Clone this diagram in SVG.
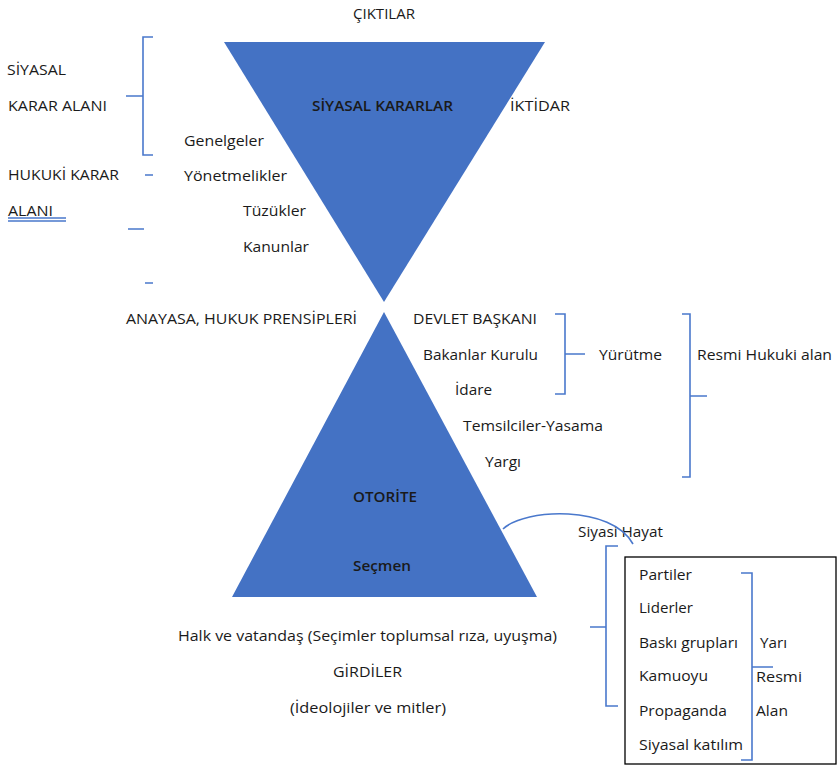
<svg xmlns="http://www.w3.org/2000/svg" width="838" height="766" viewBox="0 0 838 766">
<style>
text{font-family:"Open Sans","Liberation Sans",sans-serif;font-size:14.5px;fill:#1a1a1a}
.b{font-weight:600}
.br{fill:none;stroke:#4a78cc;stroke-width:1.6}
.tri{fill:#4472c4}
</style>
<rect width="838" height="766" fill="#fff"/>
<g id="top-triangle"><polygon class="tri" points="224,42 545,42 384,302"/><text x="312" y="111" class="b" textLength="141" lengthAdjust="spacingAndGlyphs">SİYASAL KARARLAR</text></g>
<g id="bottom-triangle"><polygon class="tri" points="384,312 537,597 232,597"/><text x="353" y="502" class="b" textLength="64" lengthAdjust="spacingAndGlyphs">OTORİTE</text><text x="353" y="571" class="b" textLength="58" lengthAdjust="spacingAndGlyphs">Seçmen</text></g>
<g id="labels">
<text x="353" y="19" textLength="62" lengthAdjust="spacingAndGlyphs">ÇIKTILAR</text>
<text x="7" y="75" textLength="59" lengthAdjust="spacingAndGlyphs">SİYASAL</text>
<text x="8" y="111" textLength="99" lengthAdjust="spacingAndGlyphs">KARAR ALANI</text>
<text x="510" y="111" textLength="60" lengthAdjust="spacingAndGlyphs">İKTİDAR</text>
<text x="184" y="146" textLength="80" lengthAdjust="spacingAndGlyphs">Genelgeler</text>
<text x="8" y="180" textLength="111" lengthAdjust="spacingAndGlyphs">HUKUKİ KARAR</text>
<text x="184" y="181" textLength="103" lengthAdjust="spacingAndGlyphs">Yönetmelikler</text>
<text x="8" y="216" textLength="45" lengthAdjust="spacingAndGlyphs">ALANI</text>
<text x="243" y="216" textLength="63" lengthAdjust="spacingAndGlyphs">Tüzükler</text>
<text x="243" y="252" textLength="66" lengthAdjust="spacingAndGlyphs">Kanunlar</text>
<text x="126" y="324" textLength="231" lengthAdjust="spacingAndGlyphs">ANAYASA, HUKUK PRENSİPLERİ</text>
<text x="413" y="324" textLength="124" lengthAdjust="spacingAndGlyphs">DEVLET BAŞKANI</text>
<text x="423" y="360" textLength="115" lengthAdjust="spacingAndGlyphs">Bakanlar Kurulu</text>
<text x="599" y="360" textLength="63" lengthAdjust="spacingAndGlyphs">Yürütme</text>
<text x="697" y="360" textLength="135" lengthAdjust="spacingAndGlyphs">Resmi Hukuki alan</text>
<text x="455" y="395" textLength="37" lengthAdjust="spacingAndGlyphs">İdare</text>
<text x="463" y="431" textLength="140" lengthAdjust="spacingAndGlyphs">Temsilciler-Yasama</text>
<text x="485" y="467" textLength="36" lengthAdjust="spacingAndGlyphs">Yargı</text>
<text x="578" y="537" textLength="85" lengthAdjust="spacingAndGlyphs">Siyasi Hayat</text>
<text x="178" y="641" textLength="379" lengthAdjust="spacingAndGlyphs">Halk ve vatandaş (Seçimler toplumsal rıza, uyuşma)</text>
<text x="333" y="677" textLength="69" lengthAdjust="spacingAndGlyphs">GİRDİLER</text>
<text x="290" y="713" textLength="156" lengthAdjust="spacingAndGlyphs">(İdeolojiler ve mitler)</text>
</g>
<g id="box">
<rect x="625" y="557" width="211" height="207" fill="none" stroke="#000" stroke-width="1.3"/>
<text x="639" y="580" textLength="53" lengthAdjust="spacingAndGlyphs">Partiler</text>
<text x="639" y="613" textLength="54" lengthAdjust="spacingAndGlyphs">Liderler</text>
<text x="639" y="648" textLength="99" lengthAdjust="spacingAndGlyphs">Baskı grupları</text>
<text x="639" y="681" textLength="69" lengthAdjust="spacingAndGlyphs">Kamuoyu</text>
<text x="639" y="716" textLength="88" lengthAdjust="spacingAndGlyphs">Propaganda</text>
<text x="639" y="750" textLength="104" lengthAdjust="spacingAndGlyphs">Siyasal katılım</text>
<text x="760" y="648" textLength="27" lengthAdjust="spacingAndGlyphs">Yarı</text>
<text x="756" y="682" textLength="46" lengthAdjust="spacingAndGlyphs">Resmi</text>
<text x="756" y="716" textLength="32" lengthAdjust="spacingAndGlyphs">Alan</text>
</g>
<g id="connectors">
<path class="br" d="M153,37 H143 V155 H153 M143,96 H126"/>
<path class="br" d="M145,175 H153 M128,229 H144 M145,283 H153"/>
<path class="br" d="M8,218 H66 M8,221 H66" stroke-width="1.2"/>
<path class="br" d="M555,314 H565 V394 H555 M565,354 H585"/>
<path class="br" d="M682,314 H690 V477 H682 M690,396 H707"/>
<path class="br" d="M503,529 C525,508 612,505 633,544"/>
<path class="br" d="M618,546 H606 V706 H618 M606,627 H590"/>
<path class="br" d="M741,573 H752 V760 H741 M752,667 H773"/>
</g>
</svg>
